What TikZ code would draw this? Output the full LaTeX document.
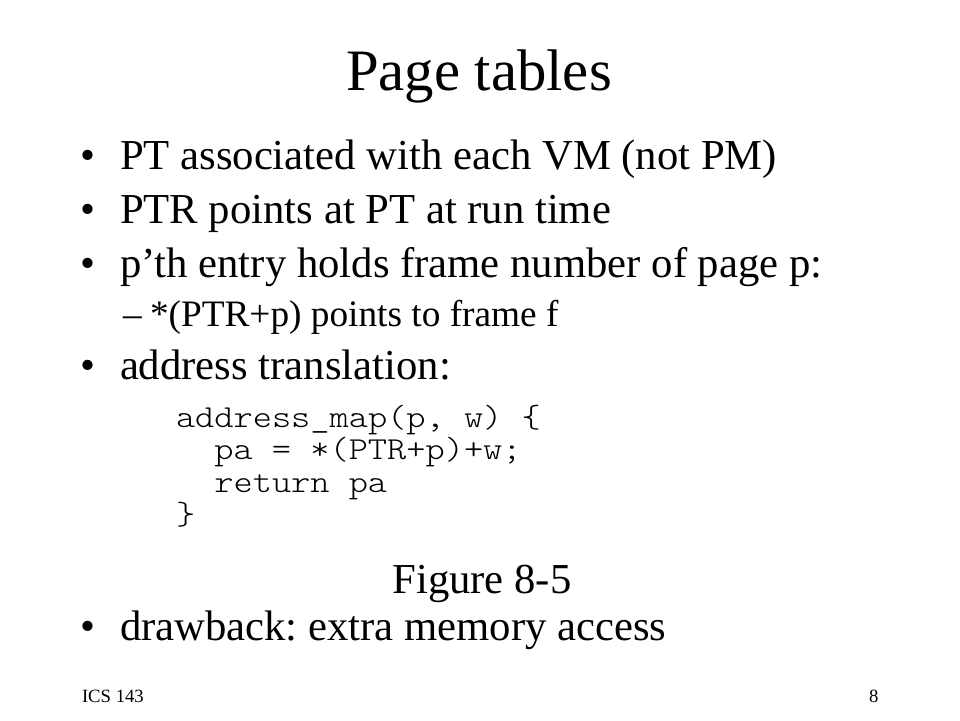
\documentclass[tikz,border=0pt]{standalone}
\usepackage{fontspec}
\setmainfont{Liberation Serif}
\setmonofont[FakeStretch=1.143]{Latin Modern Mono Light}
\begin{document}
\frenchspacing
\begin{tikzpicture}[x=1pt,y=-1pt,
  txt/.style={anchor=base west,inner sep=0pt,outer sep=0pt},
  body/.style={txt,font=\fontsize{42.7}{46}\selectfont},
  sub/.style={txt,font=\fontsize{37.3}{40}\selectfont},
  code/.style={txt,font=\ttfamily\fontsize{32}{36}\selectfont},
  foot/.style={txt,font=\fontsize{18.7}{20}\selectfont}]
\useasboundingbox[fill=white] (0,0) rectangle (960,720);
\node[txt,anchor=base,font=\fontsize{58.7}{62}\selectfont] (title) at (479,90) {Page tables};
\node[body] (b1d) at (80,169) {•};
\node[body] (b1) at (120,169) {PT associated with each VM (not PM)};
\node[body] (b2d) at (80,223) {•};
\node[body] (b2) at (120,223) {PTR points at PT at run time};
\node[body] (b3d) at (80,277) {•};
\node[body] (b3) at (120,277) {p’th entry holds frame number of page p:};
\node[sub] (s1d) at (123,326) {–};
\node[sub] (s1) at (150,326) {*(PTR+p) points to frame f};
\node[body] (b4d) at (80,379) {•};
\node[body] (b4) at (120,379) {address translation:};
\node[code] (c1) at (176,427) {address\_map(p, w) \{};
\node[code] (c2) at (176,459) {\ \ pa = *(PTR+p)+w;};
\node[code] (c3) at (176,492) {\ \ return pa};
\node[code] (c4) at (176,524) {\}};
\node[body,anchor=base] (fig) at (482,593) {Figure 8-5};
\node[body] (b5d) at (80,640) {•};
\node[body] (b5) at (120,640) {drawback: extra memory access};
\node[foot] (f1) at (82,702) {ICS 143};
\node[foot] (f2) at (869,702) {8};
\end{tikzpicture}
\end{document}
